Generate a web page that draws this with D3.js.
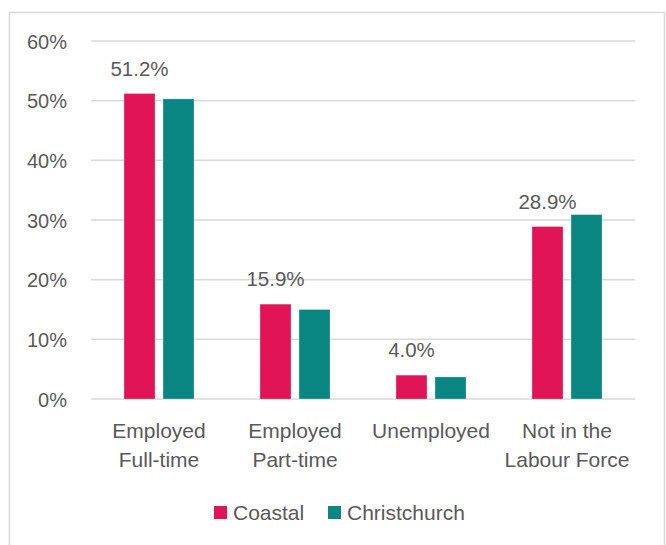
<!DOCTYPE html>
<html><head><meta charset="utf-8">
<script src="https://cdn.jsdelivr.net/npm/d3@7"></script>
<style>body{margin:0;background:#fff}svg{display:block}text{font-family:"Liberation Sans",Arial,sans-serif;fill:#595959}</style>
</head><body><svg id="c" width="666" height="545"></svg>
<script>
const categories = [["Employed","Full-time"],["Employed","Part-time"],["Unemployed"],["Not in the","Labour Force"]];
const seriesNames = ["Coastal","Christchurch"];
const coastal = [51.2, 15.9, 4.0, 28.9];
const christchurch = [50.3, 15.0, 3.7, 30.9];
const yTicks = [0,10,20,30,40,50,60];
const colors = ["#E11457","#098681"];

(function(){
const svg = d3.select("#c");
svg.append("rect").attr("x",9.5).attr("y",12.5).attr("width",655).attr("height",560)
  .attr("fill","none").attr("stroke","#D9D9D9").attr("stroke-width",1.5);

const pL=91, pR=635, pT=41, pB=399;
const gw = 70;
const x = d3.scaleBand().domain(d3.range(categories.length)).range([pL,pR]).padding(0);
const y = d3.scaleLinear().domain([0,60]).range([pB,pT]);
const x1 = d3.scaleBand().domain([0,1]).range([0,gw]).paddingInner(0.205);

svg.append("g").selectAll("line").data(yTicks).join("line")
  .attr("x1",pL).attr("x2",pR).attr("y1",d=>y(d)).attr("y2",d=>y(d))
  .attr("stroke","#D9D9D9").attr("stroke-width",1.5);

const yAxis = d3.axisLeft(y).tickValues(yTicks).tickFormat(d=>d+"%").tickSize(0).tickPadding(0);
const ga = svg.append("g").attr("transform","translate(67,0)").call(yAxis);
ga.select(".domain").remove();
ga.selectAll("text").attr("font-size",20).attr("fill","#595959").attr("font-family","Liberation Sans, Arial, sans-serif").attr("dy","0.35em");

const data = [coastal, christchurch];
data.forEach((vals,si)=>{
  svg.append("g").selectAll("rect").data(vals).join("rect")
    .attr("x",(d,i)=>x(i)+(x.bandwidth()-gw)/2+x1(si))
    .attr("width",x1.bandwidth())
    .attr("y",d=>y(d)).attr("height",d=>y(0)-y(d))
    .attr("fill",colors[si]).attr("stroke","rgba(255,255,255,0.35)").attr("stroke-width",0.8);
});

svg.append("g").selectAll("text").data(coastal).join("text")
  .attr("x",(d,i)=>x(i)+(x.bandwidth()-gw)/2+x1(0)+x1.bandwidth()/2)
  .attr("y",d=>y(d)-18).attr("text-anchor","middle").attr("font-size",20.5)
  .text(d=>d.toFixed(1)+"%");

const cg = svg.append("g");
categories.forEach((lines,i)=>{
  const t = cg.append("text").attr("text-anchor","middle").attr("font-size",21)
    .attr("x",x(i)+x.bandwidth()/2).attr("y",438);
  lines.forEach((l,j)=>t.append("tspan").attr("x",x(i)+x.bandwidth()/2).attr("y",438+j*29).text(l));
});

const lg = svg.append("g");
const legX = [214,328];
seriesNames.forEach((n,i)=>{
  lg.append("rect").attr("x",legX[i]).attr("y",506).attr("width",13).attr("height",13).attr("fill",colors[i]);
  lg.append("text").attr("x",legX[i]+19).attr("y",520).attr("font-size",21).text(n);
});
})();
</script></body></html>
